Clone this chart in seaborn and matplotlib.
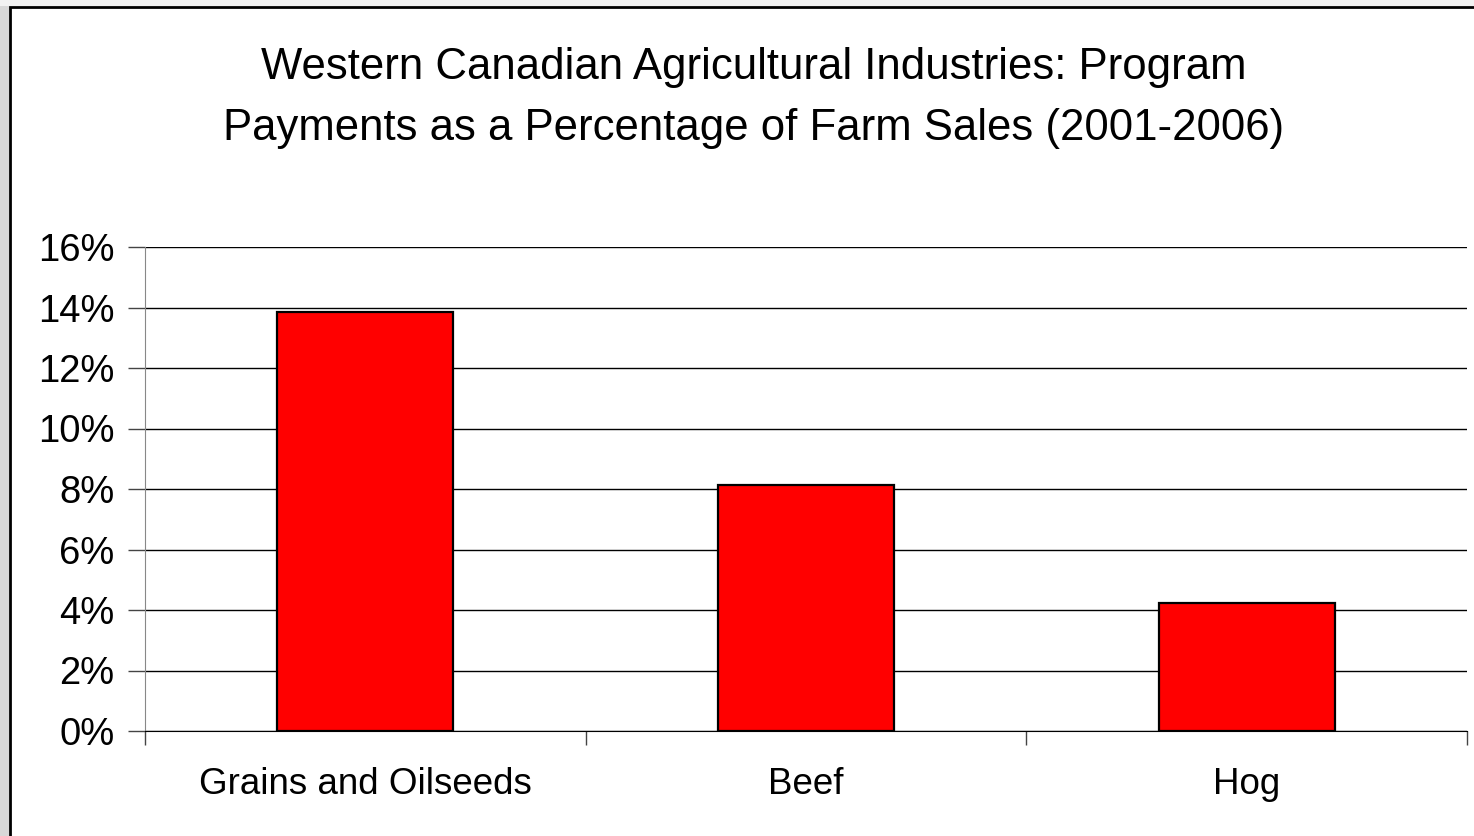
import matplotlib
matplotlib.use('Agg')
import matplotlib.pyplot as plt
import seaborn as sns
import pandas as pd
from matplotlib.patches import Rectangle
from matplotlib.ticker import FuncFormatter

# data
categories = ['Grains and Oilseeds', 'Beef', 'Hog']
payment_pct = [13.85, 8.12, 4.22]
y_ticks = [0, 2, 4, 6, 8, 10, 12, 14, 16]

sns.set_style('white')
plt.rcParams['font.family'] = ['Liberation Sans', 'DejaVu Sans']
plt.rcParams['text.color'] = 'black'
plt.rcParams['xtick.color'] = 'black'
plt.rcParams['ytick.color'] = 'black'

W, H = 1474, 836
fig = plt.figure(figsize=(W / 100, H / 100), dpi=100)

# outer grey strips and black frame
fig.patches.append(Rectangle((0, 0), 9 / W, 1, transform=fig.transFigure,
                             facecolor='#d8d8d8', edgecolor='none', zorder=-3))
fig.patches.append(Rectangle((0, 1 - 6 / H), 1, 6 / H, transform=fig.transFigure,
                             facecolor='#f2f2f2', edgecolor='none', zorder=-3))
fig.patches.append(Rectangle((9.5 / W, -0.01), 1.02, 1 - 6.5 / H + 0.01,
                             transform=fig.transFigure, facecolor='white',
                             edgecolor='black', linewidth=2, zorder=-2))

ax = fig.add_axes([145 / W, 1 - 731 / H, (1467 - 145) / W, (731 - 247) / H])
ax.set_zorder(2)
ax.set_facecolor('none')

df = pd.DataFrame({'cat': categories, 'val': payment_pct})
sns.barplot(data=df, x='cat', y='val', color='#ff0000', edgecolor='black',
            linewidth=1.6, width=0.4, saturation=1, ax=ax, zorder=3)

ax.set_ylim(0, 16)
ax.set_xlim(-0.5, 2.5)
ax.set_yticks(y_ticks)
ax.yaxis.set_major_formatter(FuncFormatter(lambda v, p: f'{v:.0f}%'))
ax.yaxis.grid(True, color='black', linewidth=1, zorder=0)
ax.set_axisbelow(True)

ax.set_xticks([-0.5, 0.5, 1.5, 2.5])
ax.set_xticklabels([])
ax.set_xticks([0, 1, 2], minor=True)
ax.set_xticklabels(categories, minor=True)
ax.tick_params(axis='x', which='major', direction='out', length=10, width=1,
               color='#444444', bottom=True)
ax.tick_params(axis='x', which='minor', length=0, pad=26, labelsize=26.5)
ax.tick_params(axis='y', direction='out', length=12, width=1, color='#444444',
               left=True, labelsize=27.5, pad=10)

for s in ['top', 'right']:
    ax.spines[s].set_visible(False)
ax.spines['left'].set_color('#888888')
ax.spines['bottom'].set_color('black')
ax.set_xlabel('')
ax.set_ylabel('')

fig.text(754 / W, 1 - 98 / H,
         'Western Canadian Agricultural Industries: Program\n'
         'Payments as a Percentage of Farm Sales (2001-2006)',
         ha='center', va='center', fontsize=31.5, linespacing=1.63)

fig.savefig('out.png', dpi=100)
